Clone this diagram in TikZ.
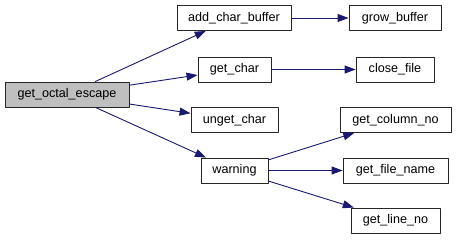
\documentclass[tikz,border=0pt]{standalone}
\usepackage{fontspec}
\setmainfont{Liberation Sans}
\usetikzlibrary{arrows.meta}
\definecolor{edgeblue}{HTML}{191970}
\definecolor{rootgray}{HTML}{BFBFBF}
\tikzset{
  fn/.style={draw=black!85,line width=0.9pt,minimum height=25pt,inner sep=0pt,font=\fontsize{12.6}{14}\selectfont},
  call/.style={->,draw=edgeblue,line width=0.9pt},
}
\begin{document}
\begin{tikzpicture}[>={Triangle[length=11pt,width=8pt]},x=1pt,y=-1pt,line join=round]
  \useasboundingbox (0,0) rectangle (456,240);
  % caller
  \node[fn,fill=rootgray,minimum width=124pt] (octal) at (67,94.5) {get\_octal\_escape};
  % first level
  \node[fn,minimum width=114pt] (addbuf) at (234,18) {add\_char\_buffer};
  \node[fn,minimum width=73pt] (getchar) at (234.5,69.5) {get\_char};
  \node[fn,minimum width=87pt] (unget) at (234.5,120) {unget\_char};
  \node[fn,minimum width=67pt] (warn) at (234.5,170.5) {warning};
  % second level
  \node[fn,minimum width=92pt] (grow) at (395,18) {grow\_buffer};
  \node[fn,minimum width=78pt] (close) at (395,69.5) {close\_file};
  \node[fn,minimum width=111pt] (column) at (395.5,120) {get\_column\_no};
  \node[fn,minimum width=105pt] (fname) at (395.5,170.5) {get\_file\_name};
  \node[fn,minimum width=89pt] (line) at (395.5,220.5) {get\_line\_no};
  % calls
  \foreach \t in {addbuf,getchar,unget,warn}
    \draw[call] (octal) -- (\t);
  \draw[call] (addbuf) -- (grow);
  \draw[call] (getchar) -- (close);
  \foreach \t in {column,fname,line}
    \draw[call] (warn) -- (\t);
\end{tikzpicture}
\end{document}
